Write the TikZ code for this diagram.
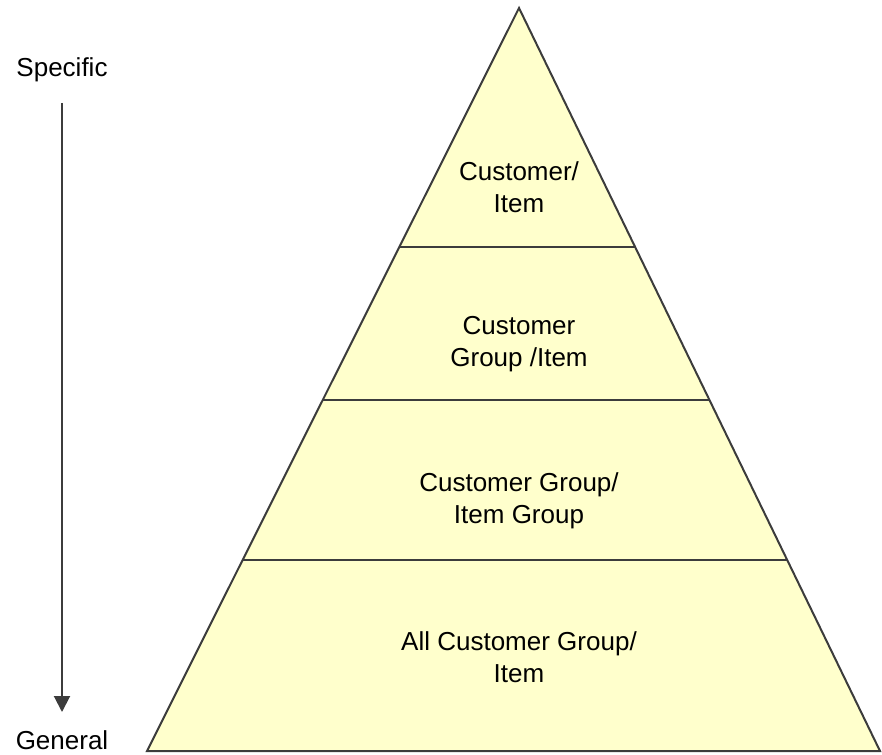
\documentclass[tikz,border=0pt]{standalone}
\usepackage{fontspec}
\setmainfont{Liberation Sans}
\usetikzlibrary{arrows.meta}
\definecolor{pyrfill}{RGB}{255,255,204}
\definecolor{pyrline}{RGB}{60,60,60}
\begin{document}
\begin{tikzpicture}[x=1pt,y=-1pt,
  lbl/.style={align=center,font=\fontsize{26}{32}\selectfont,inner sep=0pt},
  edge/.style={draw=pyrline,line width=2pt,line join=miter}]
\useasboundingbox (0,0) rectangle (882,754);
\coordinate (apex) at (519,8);
\coordinate (bl) at (147,751);
\coordinate (br) at (880,751);
\fill[pyrfill] (apex) -- (bl) -- (br) -- cycle;
% tier lines
\path (apex) -- (bl) coordinate[pos=0.32167] (l1) coordinate[pos=0.52759] (l2) coordinate[pos=0.74293] (l3);
\path (apex) -- (br) coordinate[pos=0.32167] (r1) coordinate[pos=0.52759] (r2) coordinate[pos=0.74293] (r3);
\draw[edge] (l1) -- (r1);
\draw[edge] (l2) -- (r2);
\draw[edge] (l3) -- (r3);
\draw[edge] (apex) -- (bl) -- (br) -- cycle;
\node[lbl] (t1) at (519,187) {Customer/\\Item};
\node[lbl] (t2) at (519,344) {Customer\\Group /Item};
\node[lbl] (t3) at (519,501) {Customer Group/\\Item Group};
\node[lbl] (t4) at (519,657) {All Customer Group/\\Item};
\node[lbl] (spec) at (62,70) {Specific};
\node[lbl] (gen) at (62,740) {General};
\coordinate (arrtop) at (62,103);
\coordinate (arrbot) at (62,712);
\draw[draw=pyrline,line width=2pt,-{Triangle[length=16pt,width=16pt]}] (arrtop) -- (arrbot);
\end{tikzpicture}
\end{document}
